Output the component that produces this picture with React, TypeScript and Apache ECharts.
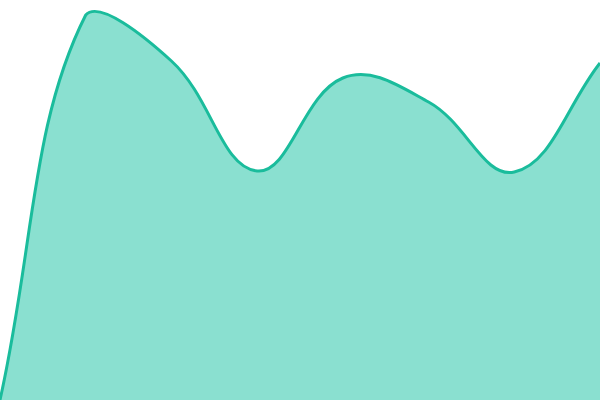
import { useEffect, useRef } from 'react';
import * as echarts from 'echarts';

const categories = ['1', '2', '3', '4', '5', '6', '7', '8'];
const values = [0, 385, 339, 229, 322, 298, 228, 337];

const TENSION = 0.4;

type Pt = [number, number];

// tension spline with control points capped to the plot rect
function splinePath(pts: Pt[], rect: { x: number; y: number; width: number; height: number }) {
  const cap = (p: Pt): Pt => [
    Math.min(Math.max(p[0], rect.x), rect.x + rect.width),
    Math.min(Math.max(p[1], rect.y), rect.y + rect.height),
  ];
  const ctrl = pts.map((cur, i) => {
    const prev = pts[i - 1] || cur;
    const next = pts[i + 1] || cur;
    const d01 = Math.hypot(cur[0] - prev[0], cur[1] - prev[1]);
    const d12 = Math.hypot(next[0] - cur[0], next[1] - cur[1]);
    const s01 = d01 / (d01 + d12) || 0;
    const s12 = d12 / (d01 + d12) || 0;
    const fa = TENSION * s01;
    const fb = TENSION * s12;
    const dx = next[0] - prev[0];
    const dy = next[1] - prev[1];
    return {
      in: cap([cur[0] - fa * dx, cur[1] - fa * dy]),
      out: cap([cur[0] + fb * dx, cur[1] + fb * dy]),
    };
  });
  let d = `M${pts[0][0]},${pts[0][1]}`;
  for (let i = 1; i < pts.length; i++) {
    const a = ctrl[i - 1].out;
    const b = ctrl[i].in;
    d += ` C${a[0]},${a[1]} ${b[0]},${b[1]} ${pts[i][0]},${pts[i][1]}`;
  }
  return d;
}

export default function App() {
  const elRef = useRef<HTMLDivElement>(null);

  useEffect(() => {
    const el = elRef.current;
    if (!el) return;
    const chart = echarts.init(el, undefined, { renderer: 'svg' });
    chart.setOption({
      animation: false,
      grid: { left: 0, right: 0, top: 0, bottom: 0 },
      xAxis: { type: 'category', data: categories, boundaryGap: false, show: false },
      yAxis: { type: 'value', min: 0, max: 400, show: false },
      series: [
        {
          type: 'custom',
          data: values.map((v, i) => [i, v]),
          encode: { x: 0, y: 1 },
          clip: true,
          renderItem: (params: any, api: any) => {
            if (params.dataIndex !== 0) return null;
            const rect = params.coordSys;
            const pts: Pt[] = values.map((v, i) => api.coord([i, v]));
            const line = splinePath(pts, rect);
            const base = api.coord([0, 0])[1];
            const last = pts[pts.length - 1];
            const area = `${line} L${last[0]},${base} L${pts[0][0]},${base} Z`;
            return {
              type: 'group',
              children: [
                {
                  type: 'path',
                  shape: { pathData: area },
                  style: { fill: '#8ae0d0', stroke: null },
                },
                {
                  type: 'path',
                  shape: { pathData: line },
                  style: { fill: null, stroke: '#1abc9c', lineWidth: 3, lineJoin: 'round' },
                },
              ],
            };
          },
        },
      ],
    });
    return () => chart.dispose();
  }, []);

  return (
    <div
      ref={elRef}
      style={{ position: 'fixed', left: 0, top: 0, width: 600, height: 400 }}
    />
  );
}
